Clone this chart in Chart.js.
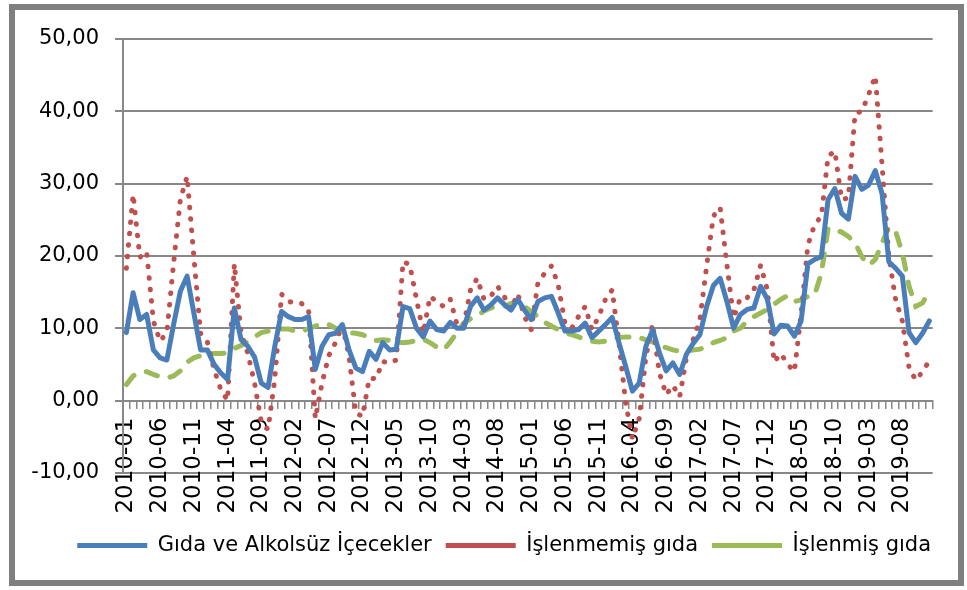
<!DOCTYPE html>
<html lang="tr">
<head>
<meta charset="utf-8">
<title>Gıda enflasyonu 2010-2019</title>
<script src="https://cdn.jsdelivr.net/npm/chart.js@4.4.1/dist/chart.umd.min.js"></script>
<style>
  html, body { margin: 0; padding: 0; background: #fff; }
  #wrap { position: relative; width: 967px; height: 590px; }
  #wrap canvas { position: absolute; left: 0; top: 0; }
  #frame {
    position: absolute; left: 9px; top: 4px;
    width: 943px; height: 570px;
    border: 6px solid #7f7f7f;
    pointer-events: none;
  }
</style>
</head>
<body>
<div id="wrap">
  <canvas id="foodChart" width="967" height="590"></canvas>
  <div id="frame"></div>
</div>
<script>
// == 1. Data (annual % change, monthly) ==
const years = ['2010', '2011', '2012', '2013', '2014', '2015', '2016', '2017', '2018', '2019'];
const months = ['01', '02', '03', '04', '05', '06', '07', '08', '09', '10', '11', '12'];
const tickEvery = 5; // a label on every fifth month, as in the original

const categories = [];
years.forEach(y => months.forEach(m => categories.push(y + '-' + m)));

// Gıda ve Alkolsüz İçecekler
const gidaAlkolsuz = [
  9.4, 14.9, 11.2, 11.9, 7.0, 5.9, 5.6, 10.5, 15.1, 17.2, 12.1, 7.0,
  7.0, 5.0, 3.8, 2.9, 12.8, 8.4, 7.5, 6.0, 2.4, 1.8, 7.5, 12.3,
  11.6, 11.2, 11.2, 11.6, 4.3, 7.5, 9.1, 9.3, 10.5, 7.0, 4.5, 4.0,
  6.8, 5.7, 8.0, 7.0, 7.1, 13.0, 12.7, 10.0, 8.8, 11.0, 9.8, 9.6,
  10.8, 10.0, 10.0, 13.0, 14.2, 12.5, 13.2, 14.2, 13.3, 12.5, 14.0, 12.5,
  11.2, 13.7, 14.2, 14.4, 12.1, 9.6, 9.6, 9.8, 10.7, 8.7, 9.6, 10.5,
  11.5, 8.0, 4.7, 1.3, 2.4, 7.5, 9.8, 6.6, 4.1, 5.2, 3.6, 6.4,
  7.9, 9.1, 13.0, 15.9, 16.9, 13.7, 10.0, 11.9, 12.6, 12.8, 15.8, 14.0,
  9.2, 10.4, 10.3, 8.9, 11.0, 18.9, 19.5, 19.9, 27.8, 29.3, 25.9, 25.1,
  31.0, 29.2, 29.8, 31.8, 28.6, 19.2, 18.3, 17.2, 9.4, 8.0, 9.3, 11.0
];

// İşlenmemiş gıda
const islenmemis = [
  18.3, 28.5, 19.8, 20.6, 11.0, 8.2, 9.4, 19.0, 27.8, 31.0, 19.9, 9.3,
  8.1, 4.3, 1.5, 0.0, 18.9, 9.3, 6.5, 2.4, -3.0, -4.0, 3.0, 14.7,
  13.7, 13.5, 13.4, 12.6, -2.5, 2.4, 6.2, 8.0, 10.5, 6.1, -1.7, -2.2,
  3.1, 3.0, 5.4, 5.2, 5.6, 19.2, 18.8, 14.0, 9.3, 14.4, 13.7, 13.0,
  14.0, 10.5, 10.3, 15.3, 16.9, 14.0, 14.4, 15.8, 14.4, 12.6, 14.8, 11.6,
  9.8, 16.3, 17.6, 18.6, 16.0, 10.7, 10.0, 11.6, 13.0, 9.8, 11.6, 14.0,
  15.3, 8.0, -0.3, -5.3, -2.5, 6.1, 10.6, 3.8, 0.8, 2.1, 0.5, 5.9,
  8.4, 11.2, 18.6, 25.5, 26.7, 18.8, 11.4, 14.2, 14.2, 15.3, 18.7, 15.3,
  5.3, 6.5, 5.0, 4.0, 12.0, 21.5, 24.3, 25.5, 33.8, 34.5, 27.8, 28.0,
  39.7, 40.0, 42.3, 44.9, 32.5, 20.0, 14.0, 11.0, 4.5, 2.8, 4.0, 5.5
];

// İşlenmiş gıda
const islenmis = [
  2.2, 3.4, 3.9, 4.0, 3.6, 3.3, 3.1, 3.4, 4.1, 5.3, 5.9, 6.2,
  6.3, 6.5, 6.5, 6.6, 7.2, 7.6, 8.2, 8.8, 9.4, 9.6, 9.8, 9.9,
  9.9, 9.6, 9.6, 9.9, 10.3, 10.6, 10.5, 10.0, 9.6, 9.4, 9.3, 9.1,
  8.7, 8.3, 8.4, 8.3, 8.1, 8.0, 8.1, 8.3, 8.5, 8.0, 7.4, 7.0,
  8.1, 9.4, 10.7, 11.3, 11.7, 12.4, 12.8, 13.0, 13.0, 13.4, 13.8, 13.0,
  12.3, 11.6, 10.8, 10.3, 9.8, 9.4, 9.1, 8.8, 8.4, 8.2, 8.1, 8.2,
  8.5, 8.7, 8.8, 8.8, 8.7, 8.4, 8.1, 7.6, 7.3, 7.0, 6.8, 6.9,
  7.0, 7.1, 7.5, 8.0, 8.3, 8.7, 9.6, 10.0, 11.0, 11.6, 12.1, 12.6,
  13.3, 14.0, 14.5, 13.7, 13.9, 14.4, 14.6, 17.6, 23.8, 23.6, 23.3, 22.7,
  21.8, 19.9, 18.7, 19.5, 21.8, 24.0, 23.4, 20.4, 15.8, 13.0, 13.5, 15.1
];

// == 2. Chart ==
Chart.defaults.font.family = "'DejaVu Sans', sans-serif";
Chart.defaults.color = '#000';

const axisGray = '#888888';

const canvasFood = document.getElementById('foodChart');
new Chart(canvasFood.getContext('2d'), {
  type: 'line',
  data: {
    labels: categories,
    datasets: [
      {
        label: 'Gıda ve Alkolsüz İçecekler',
        data: gidaAlkolsuz,
        borderColor: '#4A7EBB',
        backgroundColor: '#4A7EBB',
        borderWidth: 5,
        borderJoinStyle: 'round',
        borderCapStyle: 'round',
        pointRadius: 0,
        tension: 0
      },
      {
        label: 'İşlenmemiş gıda',
        data: islenmemis,
        borderColor: '#C0504D',
        backgroundColor: '#C0504D',
        borderWidth: 5,
        borderDash: [0.5, 11],
        borderCapStyle: 'round',
        pointRadius: 0,
        tension: 0
      },
      {
        label: 'İşlenmiş gıda',
        data: islenmis,
        borderColor: '#9BBB59',
        backgroundColor: '#9BBB59',
        borderWidth: 5,
        borderDash: [12, 13],
        borderCapStyle: 'round',
        pointRadius: 0,
        tension: 0
      }
    ]
  },
  options: {
    responsive: false,
    animation: false,
    layout: { padding: { left: 20, right: 22, top: 39, bottom: 24 } },
    plugins: {
      tooltip: { enabled: false },
      legend: {
        position: 'bottom',
        align: 'end',
        // empty title only used as a spacer above the legend row
        title: { display: true, text: '', font: { size: 1 }, padding: { top: 47, bottom: 0 } },
        labels: {
          usePointStyle: true,
          pointStyle: 'line',
          pointStyleWidth: 70,
          padding: 14,
          font: { size: 21 },
          color: '#000'
        }
      }
    },
    scales: {
      x: {
        position: { y: 0 },
        offset: true,
        grid: { offset: true, drawOnChartArea: false, drawTicks: true, tickLength: 7, color: axisGray, lineWidth: 1.5 },
        border: { display: true, color: axisGray, width: 2 },
        ticks: {
          autoSkip: false,
          minRotation: 90,
          maxRotation: 90,
          padding: 10,
          font: { size: 23 },
          callback: function (value, index) {
            return index % tickEvery === 0 ? this.getLabelForValue(value) : '';
          }
        }
      },
      y: {
        min: -10,
        max: 50,
        ticks: {
          stepSize: 10,
          padding: 16,
          font: { size: 21 },
          callback: v => v.toFixed(2).replace('.', ',')
        },
        grid: { color: axisGray, lineWidth: 2, tickLength: 8 },
        border: { color: axisGray, width: 2 },
        afterFit: scale => { scale.width = 103; }
      }
    }
  }
});
</script>
</body>
</html>
